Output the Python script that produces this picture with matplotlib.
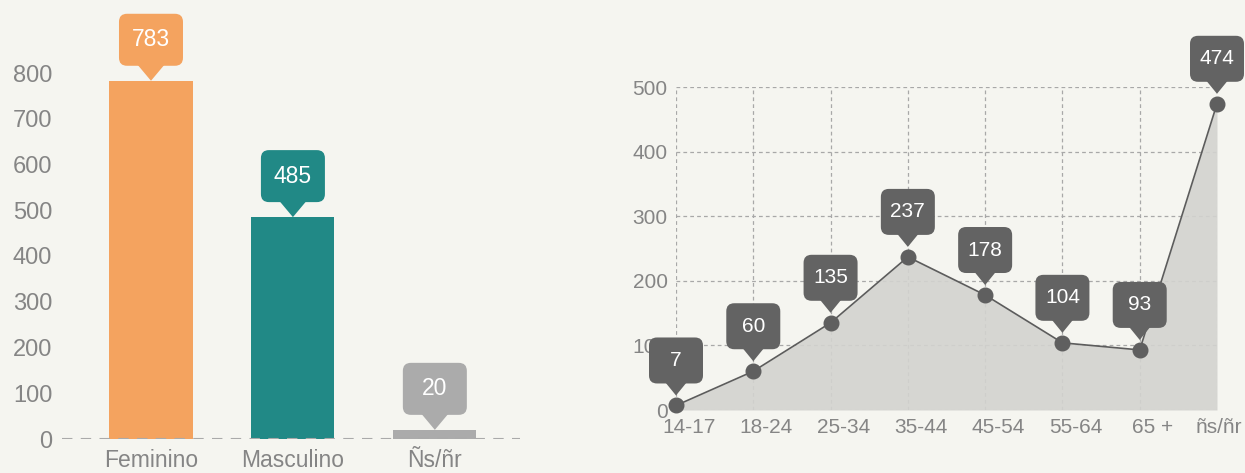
import numpy as np
import matplotlib
matplotlib.use("Agg")
from matplotlib import pyplot as plt
from matplotlib import transforms
from matplotlib.patches import FancyBboxPatch, Polygon

plt.rcParams['font.family'] = ['Liberation Sans', 'DejaVu Sans']

# data
gender = ['Feminino', 'Masculino', 'Ñs/ñr']
gender_vals = [783, 485, 20]
gender_colors = ['#F4A35F', '#218986', '#ABABAB']

ages = ['14-17', '18-24', '25-34', '35-44', '45-54', '55-64', '65 +', 'ñs/ñr']
age_vals = [7, 60, 135, 237, 178, 104, 93, 474]

bg = '#F5F5F0'
tick_col = '#858585'
dark = '#636363'


def callout(ax, x, y, text, color, w, h, ph, gap, fs):
    # box with pointer, sizes in pixels (dpi=100 -> 1 inch = 100 px)
    fig = ax.figure
    tr = fig.dpi_scale_trans + transforms.ScaledTranslation(x, y, ax.transData)
    s = 1 / 100.
    box = FancyBboxPatch((-w / 2 * s, (gap + ph) * s), w * s, h * s,
                         boxstyle="round,pad=0,rounding_size=%f" % (8 * s),
                         fc=color, ec='none', transform=tr, clip_on=False, zorder=6)
    pw = ph * 1.9
    tri = Polygon([(-pw / 2 * s, (gap + ph + 2) * s), (pw / 2 * s, (gap + ph + 2) * s),
                   (0, gap * s)], closed=True, fc=color, ec='none',
                  transform=tr, clip_on=False, zorder=6)
    ax.add_patch(box)
    ax.add_patch(tri)
    ax.text(0, (gap + ph + h / 2) * s, text, transform=tr, ha='center', va='center',
            color='white', fontsize=fs, zorder=7, clip_on=False)


fig = plt.figure(figsize=(12.45, 4.73), dpi=100, facecolor=bg)

# left: bars
ax1 = fig.add_axes([62 / 1245, 34 / 473, 458 / 1245, 366 / 473])
ax1.set_facecolor('none')
xs = np.arange(len(gender))
ax1.bar(xs, gender_vals, width=0.585, color=gender_colors, zorder=2)
ax1.axhline(0, color='#AAAAAA', lw=1.5, ls=(0, (5, 4)), zorder=3)
ax1.set_xlim(-0.627, 2.6)
ax1.set_ylim(0, 800)
ax1.set_yticks(range(0, 801, 100))
ax1.set_xticks(xs)
ax1.set_xticklabels(gender)
for sp in ax1.spines.values():
    sp.set_visible(False)
ax1.tick_params(length=0, labelsize=17, colors=tick_col)
ax1.tick_params(axis='y', pad=7)
ax1.tick_params(axis='x', pad=7, labelsize=16.5)
for i, v in enumerate(gender_vals):
    callout(ax1, xs[i], v, str(v), gender_colors[i], 64, 52, 15, 0, 16.5)

# right: line / area
ax2 = fig.add_axes([676 / 1245, 63 / 473, 541 / 1245, 323 / 473])
ax2.set_facecolor('none')
xa = np.arange(len(ages))
ax2.fill_between(xa, age_vals, 0, color='#D3D3CF', alpha=0.9, zorder=1, lw=0)
ax2.plot(xa, age_vals, color='#5C5C5C', lw=1.2, marker='o', ms=10.5,
         mfc='#5F5F5F', mec='#5F5F5F', zorder=4, clip_on=False)
ax2.set_xlim(0, 7)
ax2.set_ylim(0, 500)
ax2.set_xticks(xa)
ax2.set_xticklabels(ages)
ax2.set_yticks(range(0, 501, 100))
ax2.grid(True, color='#A8A8A8', lw=0.9, ls=(0, (3, 2.5)), zorder=0)
ax2.set_axisbelow(True)
for sp in ax2.spines.values():
    sp.set_visible(False)
ax2.tick_params(length=0, labelsize=15, colors=tick_col)
ax2.tick_params(axis='y', pad=6)
ax2.tick_params(axis='x', pad=6)
for i, lbl in enumerate(ax2.get_xticklabels()):
    dx = 13 if i < len(ages) - 1 else 2
    lbl.set_transform(lbl.get_transform() + transforms.Affine2D().translate(dx, 0))
for i, v in enumerate(age_vals):
    callout(ax2, xa[i], v, str(v), dark, 54, 46, 12, 10, 15)

fig.savefig('out.png', dpi=100, facecolor=bg)
